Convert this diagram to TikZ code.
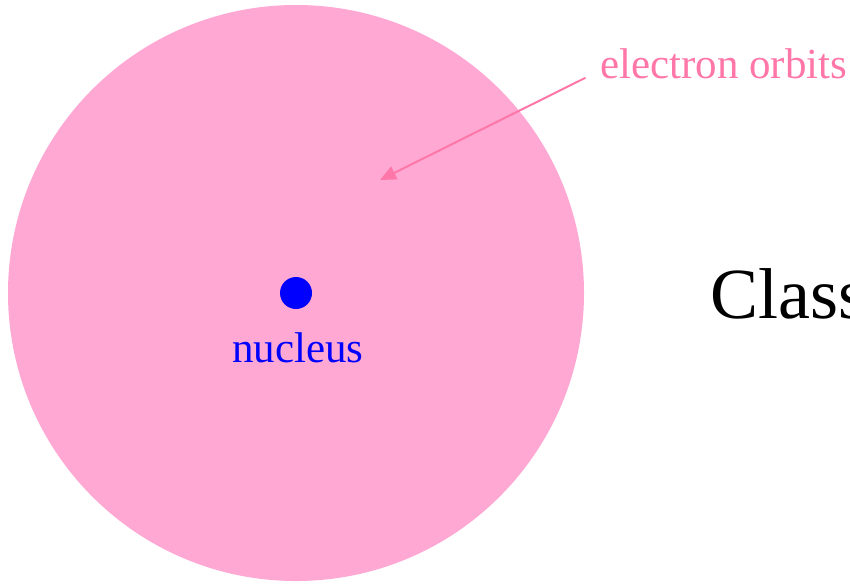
\documentclass[tikz,border=0pt]{standalone}
\usepackage{fontspec}
\setmainfont{Liberation Serif}
\usetikzlibrary{arrows.meta}

\definecolor{orbitpink}{RGB}{255,168,212}
\definecolor{labelpink}{RGB}{255,119,168}
\definecolor{nucblue}{RGB}{0,0,255}

\begin{document}
\begin{tikzpicture}[x=1pt, y=-1pt, line cap=round, line join=round,
  lbl/.style={anchor=base, inner sep=0pt, font=\fontsize{43}{51}\selectfont}]

  %% ════ orbit disc ════
  \fill[orbitpink] (296,293) circle (288);

  %% ════ nucleus ════
  \node[circle, fill=nucblue, inner sep=0pt, minimum size=32pt] (nucleus) at (296,293) {};
  \node[lbl, text=nucblue] (nuclabel) at (298,362) {nucleus};

  %% ════ label + arrow ════
  \node[lbl, anchor=base west, text=labelpink] (orbits) at (600,78) {electron orbits};
  \coordinate (orbittip) at (380,180);
  \draw[labelpink, line width=2pt, -{Triangle[length=16pt,width=14pt]}]
    ([xshift=-15pt]orbits.base west) -- (orbittip);

  %% ════ title (cut at the right edge) ════
  \node[anchor=base west, inner sep=0pt, font=\fontsize{72}{86}\selectfont] (title) at (710,318) {Class};

  \pgfresetboundingbox
  \path[use as bounding box] (0,0) rectangle (850,584);
\end{tikzpicture}
\end{document}
